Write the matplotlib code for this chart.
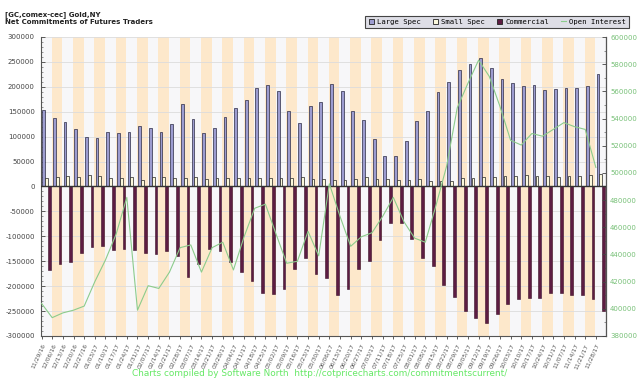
import numpy as np
import matplotlib
matplotlib.use("Agg")
import matplotlib.pyplot as plt
from matplotlib.pyplot import MultipleLocator
from matplotlib.patches import Patch
from matplotlib.lines import Line2D

dates = ["11/29/16", "12/06/16", "12/13/16", "12/20/16", "12/27/16", "01/03/17", "01/10/17",
         "01/17/17", "01/24/17", "01/31/17", "02/07/17", "02/14/17", "02/21/17", "02/28/17",
         "03/07/17", "03/14/17", "03/21/17", "03/28/17", "04/04/17", "04/11/17", "04/18/17",
         "04/25/17", "05/02/17", "05/09/17", "05/16/17", "05/23/17", "05/30/17", "06/06/17",
         "06/13/17", "06/20/17", "06/27/17", "07/03/17", "07/11/17", "07/18/17", "07/25/17",
         "08/01/17", "08/08/17", "08/15/17", "08/22/17", "08/29/17", "09/05/17", "09/12/17",
         "09/19/17", "09/26/17", "10/03/17", "10/10/17", "10/17/17", "10/24/17", "10/31/17",
         "11/07/17", "11/14/17", "11/21/17", "11/28/17"]

large_spec = [153000, 137000, 130000, 116000, 99000, 98000, 109000, 108000, 110000, 121000,
              117000, 110000, 125000, 165000, 135000, 108000, 118000, 139000, 157000, 174000,
              197000, 203000, 191000, 152000, 127000, 161000, 169000, 205000, 191000, 152000,
              133000, 95000, 61000, 61000, 92000, 131000, 151000, 189000, 210000, 233000,
              246000, 257000, 238000, 215000, 207000, 202000, 203000, 193000, 195000, 198000,
              197000, 202000, 225000]

small_spec = [17000, 20000, 21000, 20000, 24000, 21000, 17000, 17000, 19000, 13000,
              19000, 19000, 17000, 17000, 20000, 15000, 17000, 17000, 17000, 17000,
              17000, 17000, 17000, 17000, 19000, 16000, 16000, 13500, 14000, 15500,
              18500, 15000, 15000, 13500, 13000, 14500, 12000, 11500, 12000, 18000,
              17500, 19000, 20000, 21000, 22000, 24000, 22000, 21500, 20000, 21000,
              21000, 24000, 24500]

commercial = [-168000, -156000, -151000, -134000, -122000, -119000, -127000, -125000, -127000, -134000,
              -136000, -129000, -140000, -181000, -155000, -126000, -130000, -152000, -172000, -189000,
              -213000, -215000, -205000, -166000, -144000, -176000, -184000, -218000, -205000, -166000,
              -150000, -107000, -74000, -74000, -105000, -144000, -160000, -198000, -221000, -250000,
              -263000, -274000, -255000, -236000, -226000, -224000, -223000, -213000, -213000, -218000,
              -217000, -226000, -250000]

open_interest = [404000, 393500, 397000, 399000, 402000, 420000, 436000, 455000, 482000, 399000,
                 417000, 415000, 427000, 445000, 447000, 427000, 445000, 449000, 428600, 453000,
                 474000, 477000, 455000, 433500, 435000, 457000, 439000, 492000, 468000, 446000,
                 453000, 456000, 468000, 482000, 464000, 452000, 449000, 476000, 505000, 548000,
                 566000, 583000, 571000, 549000, 524000, 520500, 529000, 527000, 532000, 537000,
                 534000, 532000, 504000]

left_ticks = list(range(-300000, 300001, 50000))
right_ticks = list(range(380000, 600001, 20000))

n = len(dates)
x = np.arange(n)

fig = plt.figure(figsize=(6.4, 3.85), dpi=100)
ax = fig.add_axes([41 / 640, 1 - 336 / 385, 565 / 640, 299 / 385])
ax.set_facecolor('#f7f7f9')

# alternating week stripes
for i in range(n):
    if i % 2 == 1:
        ax.axvspan(i, i + 1, color='#fde8cb', lw=0, zorder=0)

ax.set_axisbelow(True)
ax.yaxis.grid(True, color='#dcdcdc', lw=0.6)

ax.bar(x + 0.25, large_spec, width=0.26, color='#9c9cd0', edgecolor='#2a2a44', lw=0.5, zorder=2)
ax.bar(x + 0.52, small_spec, width=0.26, color='#fbf8dc', edgecolor='#222222', lw=0.5, zorder=2)
ax.bar(x + 0.79, commercial, width=0.26, color='#5d1c42', edgecolor='#3a0f28', lw=0.4, zorder=2)
ax.axhline(0, color='#333333', lw=1.0, zorder=3)

ax.set_xlim(0, n)
ax.set_ylim(-300000, 300000)
ax.set_yticks(left_ticks)
ax.set_yticklabels([str(t) for t in left_ticks])
ax.yaxis.set_minor_locator(MultipleLocator(10000))
ax.tick_params(axis='y', which='major', direction='in', length=3, width=0.6,
               labelsize=5, labelcolor='#444444', color='#444444', pad=4.5)
ax.tick_params(axis='y', which='minor', direction='in', length=1.5, width=0.4, color='#444444')

ax.set_xticks(x + 0.05)
ax.set_xticklabels(dates, rotation=65, ha='right', va='top', rotation_mode='anchor',
                   fontsize=4.3, color='#555555')
ax.tick_params(axis='x', direction='out', length=2, width=0.6, color='#444444', pad=3)

for s in ['top']:
    ax.spines[s].set_visible(False)
for s in ['left', 'bottom']:
    ax.spines[s].set_color('#555555')
    ax.spines[s].set_linewidth(0.8)

ax2 = ax.twinx()
ax2.plot(x + 0.05, open_interest, color='#8ccc8c', lw=0.8, zorder=4)
ax2.set_ylim(380000, 600000)
ax2.set_yticks(right_ticks)
ax2.set_yticklabels([str(t) for t in right_ticks])
ax2.yaxis.set_minor_locator(MultipleLocator(10000))
ax2.tick_params(axis='y', which='major', direction='in', length=3, width=0.6,
                labelsize=5, labelcolor='#77c077', color='#444444', pad=3)
ax2.tick_params(axis='y', which='minor', direction='in', length=1.5, width=0.4, color='#444444')
ax2.spines['top'].set_visible(False)
ax2.spines['right'].set_color('#555555')
ax2.spines['right'].set_linewidth(0.8)
ax2.spines['left'].set_visible(False)
ax2.spines['bottom'].set_visible(False)

fig.text(5 / 640, 1 - 15 / 385, "[GC,comex-cec] Gold,NY", fontsize=5, weight='bold',
         color='#222222', va='center')
fig.text(5 / 640, 1 - 22.5 / 385, "Net Commitments of Futures Traders", fontsize=5, weight='bold',
         color='#222222', va='center')

handles = [Patch(facecolor='#9c9cd0', edgecolor='#222222', lw=0.6),
           Patch(facecolor='#fbf8dc', edgecolor='#222222', lw=0.6),
           Patch(facecolor='#5d1c42', edgecolor='#222222', lw=0.6),
           Line2D([], [], color='#8ccc8c', lw=0.8)]
leg = fig.legend(handles, ["Large Spec", "Small Spec", "Commercial", "Open Interest"],
                 ncol=4, loc='upper right', bbox_to_anchor=(633 / 640, 1 - 12 / 385),
                 prop={'family': 'DejaVu Sans Mono', 'size': 5.2},
                 handlelength=0.7, handleheight=0.7, handletextpad=0.5, columnspacing=1.6,
                 borderpad=0.45, fancybox=False, framealpha=1)
leg.get_frame().set_facecolor('#dedee6')
leg.get_frame().set_edgecolor('#444444')
leg.get_frame().set_linewidth(0.8)

fig.text(0.5, 1 - 374 / 385, "Charts compiled by Software North  http://cotpricecharts.com/commitmentscurrent/",
         fontsize=6.4, color='#66e866', ha='center', va='center')

fig.savefig("out.png", dpi=100)
